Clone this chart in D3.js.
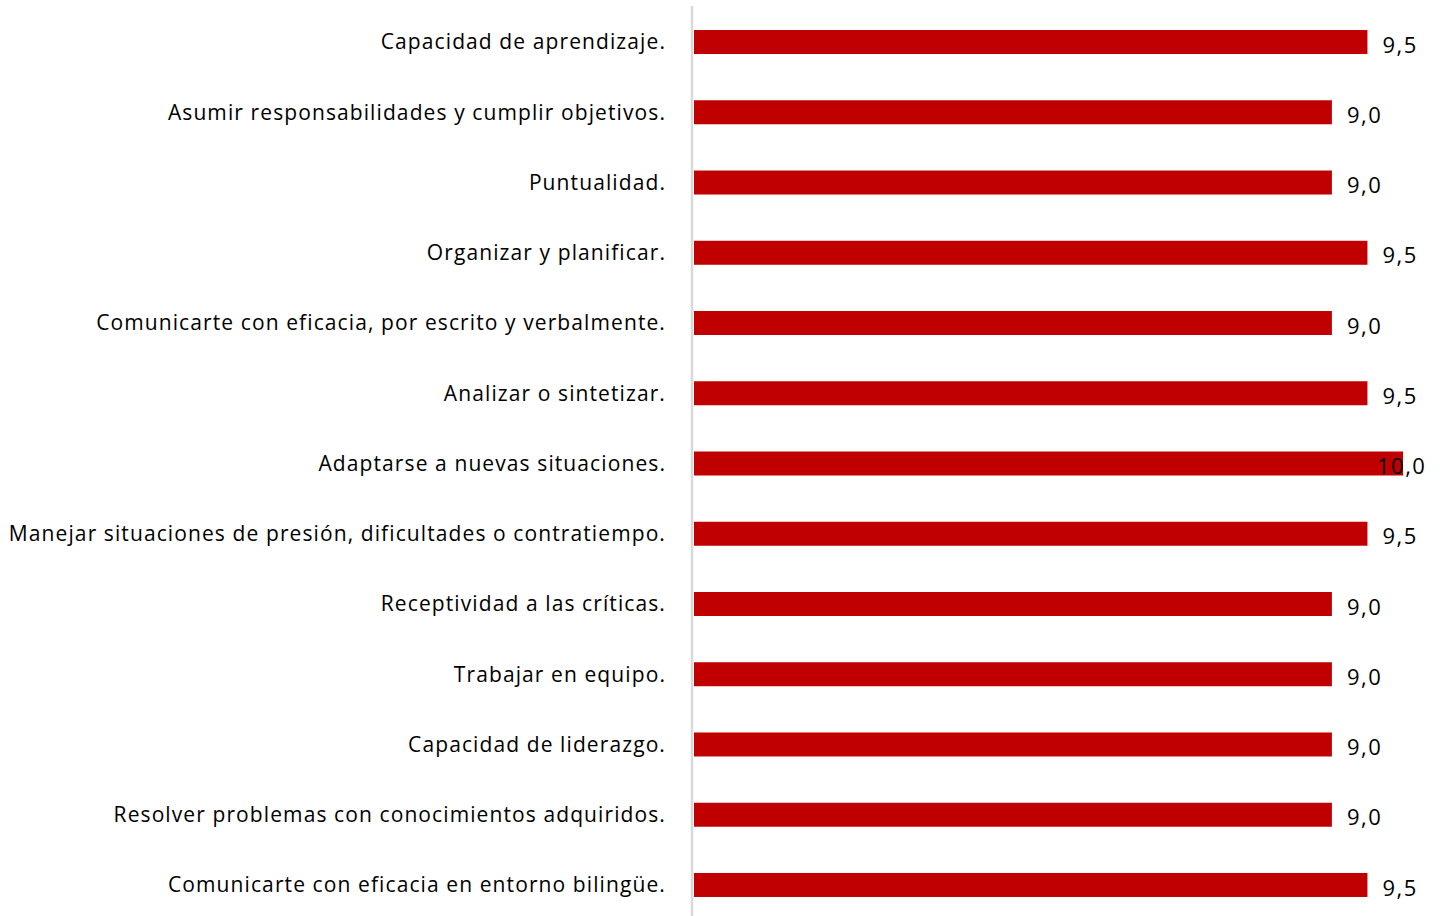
<!DOCTYPE html>
<html>
<head>
<meta charset="utf-8">
<script src="https://cdn.jsdelivr.net/npm/d3@7"></script>
<style>
  body { margin: 0; background: #fff; }
  text { font-family: "Open Sans", Lato, sans-serif; fill: #000; font-variant-ligatures: none; }
</style>
</head>
<body>
<div id="chart"></div>
<script>
// categories, top to bottom
var categories = [
  "Capacidad de aprendizaje.",
  "Asumir responsabilidades y cumplir objetivos.",
  "Puntualidad.",
  "Organizar y planificar.",
  "Comunicarte con eficacia, por escrito y verbalmente.",
  "Analizar o sintetizar.",
  "Adaptarse a nuevas situaciones.",
  "Manejar situaciones de presión, dificultades o contratiempo.",
  "Receptividad a las críticas.",
  "Trabajar en equipo.",
  "Capacidad de liderazgo.",
  "Resolver problemas con conocimientos adquiridos.",
  "Comunicarte con eficacia en entorno bilingüe."
];
var values = [9.5, 9.0, 9.0, 9.5, 9.0, 9.5, 10.0, 9.5, 9.0, 9.0, 9.0, 9.0, 9.5];

var width = 1441, height = 916;
var data = categories.map((c, i) => ({cat: c, val: values[i]}));

var svg = d3.select("#chart")
  .append("svg")
    .attr("width", width)
    .attr("height", height);

// X scale
var x = d3.scaleLinear()
  .domain([0, 10])
  .range([692, 1403]);

// Y scale
var y = d3.scaleBand()
  .domain(categories)
  .range([6.9, 920.1]);

var barH = 24;

// bars
svg.append("g")
  .selectAll("rect")
  .data(data)
  .join("rect")
    .attr("x", x(0) + 2)
    .attr("y", d => y(d.cat) + (y.bandwidth() - barH) / 2)
    .attr("width", d => x(d.val) - x(0) - 2)
    .attr("height", barH)
    .style("fill", "#c00000");

// vertical axis line
svg.append("line")
  .attr("x1", x(0)).attr("x2", x(0))
  .attr("y1", 6).attr("y2", height)
  .style("stroke", "#d9d9d9")
  .style("stroke-width", 2.5);

// category labels
svg.append("g")
  .selectAll("text")
  .data(data)
  .join("text")
    .attr("x", 666)
    .attr("y", d => y(d.cat) + y.bandwidth() / 2)
    .attr("dy", "0.35em")
    .attr("text-anchor", "end")
    .style("font-size", "21px")
    .style("letter-spacing", "1.1px")
    .text(d => d.cat);

// value labels (the full bar pushes its label back over the bar end)
var fmt = v => v.toFixed(1).replace(".", ",");
svg.append("g")
  .selectAll("text")
  .data(data)
  .join("text")
    .attr("x", d => d.val >= 10 ? x(d.val) - 26 : x(d.val) + 15)
    .attr("y", d => y(d.cat) + y.bandwidth() / 2 + 3)
    .attr("dy", "0.35em")
    .style("font-size", "22px")
    .style("letter-spacing", "1.5px")
    .text(d => fmt(d.val));
</script>
</body>
</html>
